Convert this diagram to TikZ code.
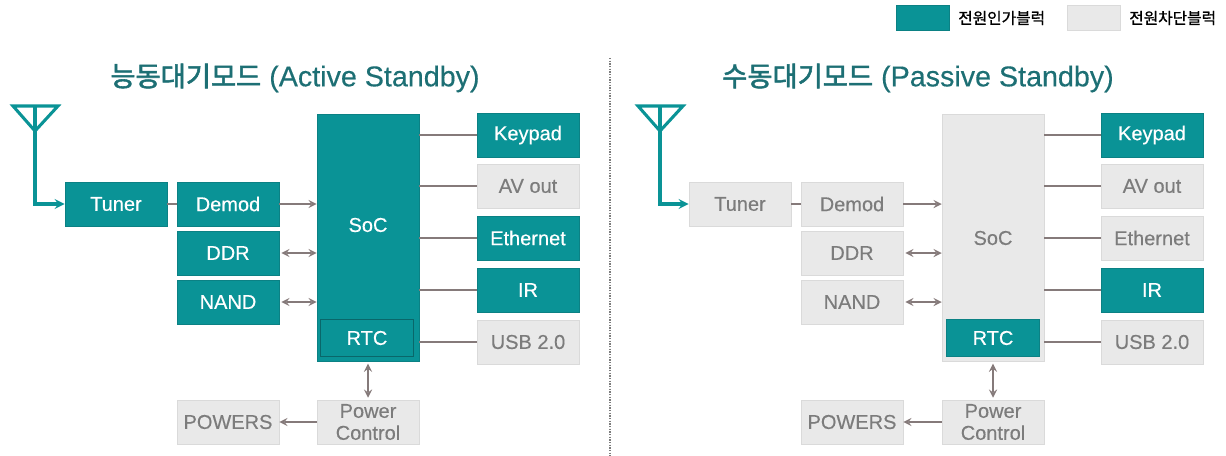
\documentclass[tikz,border=0pt]{standalone}
\usepackage{fontspec}
\setmainfont[FakeBold=0.35]{Liberation Sans}
\newfontfamily\cjk[FakeBold=2]{Noto Sans CJK KR}
\newfontfamily\cjkbold[FakeBold=0.9]{Noto Sans CJK KR}
\usetikzlibrary{calc}
\definecolor{tealblock}{HTML}{0A9396}
\definecolor{tealedge}{HTML}{0B8184}
\definecolor{tealtitle}{HTML}{1D6F74}
\definecolor{greyblock}{HTML}{E9E9E9}
\definecolor{greyedge}{HTML}{DADADA}
\definecolor{greytext}{HTML}{7C7C7C}
\definecolor{wirecolor}{HTML}{857A7A}

\begin{document}
\begin{tikzpicture}[x=0.75pt, y=-0.75pt, >=stealth,
    block/.style={rectangle, inner sep=0pt, minimum width=76.5pt, minimum height=33pt,
            font=\fontsize{15}{16.5}\selectfont, align=center},
    onblock/.style={block, fill=tealblock, draw=tealedge, text=white},
    offblock/.style={block, fill=greyblock, draw=greyedge, text=greytext},
    tallblock/.style={minimum height=185pt},
    rtcblock/.style={minimum width=70pt, minimum height=28pt},
    wire/.style={draw=wirecolor, line width=1.7pt},
    feed/.style={draw=tealblock, line width=2.3pt},
    title/.style={text=tealtitle, font=\fontsize{21.5}{24}\selectfont},
    legend/.style={inner sep=0pt, font=\cjkbold\fontsize{11.8}{13}\selectfont}]
        \useasboundingbox (0,0) rectangle (1226,456);

        % legend
        \node[onblock, minimum width=40pt, minimum height=19pt] (legendOn) at (923,18) {};
        \node[legend, anchor=west] (legendOnText) at (958,18) {전원인가블럭};
        \node[offblock, minimum width=40pt, minimum height=19pt] (legendOff) at (1094,18) {};
        \node[legend, anchor=west] (legendOffText) at (1129,18) {전원차단블럭};

        \node[title] (titleA) at (295,78) {{\cjk\fontsize{20.5}{24}\selectfont 능동대기모드} (Active Standby)};
        \node[title] (titleB) at (918,78) {{\cjk\fontsize{20.5}{24}\selectfont 수동대기모드} (Passive Standby)};
        \coordinate (splitTop) at (610,58);
        \coordinate (splitBot) at (610,456);
        \draw[greytext, densely dotted, line width=1pt] (splitTop) -- (splitBot);

        % active standby
        \node[onblock] (tunerA) at (116,204) {Tuner};
        \node[onblock] (demodA) at (228,204) {Demod};
        \node[onblock] (ddrA) at (228,253) {DDR};
        \node[onblock] (nandA) at (228,302) {NAND};
        \node[onblock, tallblock] (socA) at (368,238) {};
        \node[text=white, font=\fontsize{15}{16}\selectfont] (socTextA) at (368,225) {SoC};
        \node[onblock, rtcblock, draw=tealedge!80!black] (rtcA) at (367,338) {RTC};
        \node[onblock] (keypadA) at (528,135) {Keypad};
        \node[offblock] (avA) at (528,186) {AV out};
        \node[onblock] (ethA) at (528,238) {Ethernet};
        \node[onblock] (irA) at (528,290) {IR};
        \node[offblock] (usbA) at (528,342) {USB 2.0};
        \node[offblock] (pwrA) at (368,422) {Power\\Control};
        \node[offblock] (powersA) at (228,422) {POWERS};

        \coordinate (antTopA) at (35,106);
        \coordinate (antLeftA) at (13,106);
        \coordinate (antRightA) at (58,106);
        \coordinate (antTipA) at (35,131);
        \draw[feed] (antLeftA) -- (antRightA) -- (antTipA) -- cycle;
        \draw[feed, ->] (antTopA) |- (tunerA);
        \draw[wire] (tunerA) -- (demodA);
        \draw[wire, ->] (demodA) -- (demodA -| socA.west);
        \draw[wire, <->] ($(ddrA.east)+(2,0)$) -- (ddrA -| socA.west);
        \draw[wire, <->] ($(nandA.east)+(2,0)$) -- (nandA -| socA.west);
        \draw[wire] (keypadA.west) -- (keypadA -| socA.east);
        \draw[wire] (avA.west) -- (avA -| socA.east);
        \draw[wire] (ethA.west) -- (ethA -| socA.east);
        \draw[wire] (irA.west) -- (irA -| socA.east);
        \draw[wire] (usbA.west) -- (usbA -| socA.east);
        \draw[wire, <->] ($(socA.south)+(0,2)$) -- ($(pwrA.north)+(0,-2)$);
        \draw[wire, ->] (pwrA) -- (powersA);

        % passive standby
        \node[offblock] (tunerB) at (740,204) {Tuner};
        \node[offblock] (demodB) at (852,204) {Demod};
        \node[offblock] (ddrB) at (852,253) {DDR};
        \node[offblock] (nandB) at (852,302) {NAND};
        \node[offblock, tallblock] (socB) at (993,238) {SoC};
        \node[onblock, rtcblock] (rtcB) at (993,338) {RTC};
        \node[onblock] (keypadB) at (1152,135) {Keypad};
        \node[offblock] (avB) at (1152,186) {AV out};
        \node[offblock] (ethB) at (1152,238) {Ethernet};
        \node[onblock] (irB) at (1152,290) {IR};
        \node[offblock] (usbB) at (1152,342) {USB 2.0};
        \node[offblock] (pwrB) at (993,422) {Power\\Control};
        \node[offblock] (powersB) at (852,422) {POWERS};

        \coordinate (antTopB) at (660,106);
        \coordinate (antLeftB) at (638,106);
        \coordinate (antRightB) at (683,106);
        \coordinate (antTipB) at (660,131);
        \draw[feed] (antLeftB) -- (antRightB) -- (antTipB) -- cycle;
        \draw[feed, ->] (antTopB) |- (tunerB);
        \draw[wire] (tunerB) -- (demodB);
        \draw[wire, ->] (demodB) -- (demodB -| socB.west);
        \draw[wire, <->] ($(ddrB.east)+(2,0)$) -- (ddrB -| socB.west);
        \draw[wire, <->] ($(nandB.east)+(2,0)$) -- (nandB -| socB.west);
        \draw[wire] (keypadB.west) -- (keypadB -| socB.east);
        \draw[wire] (avB.west) -- (avB -| socB.east);
        \draw[wire] (ethB.west) -- (ethB -| socB.east);
        \draw[wire] (irB.west) -- (irB -| socB.east);
        \draw[wire] (usbB.west) -- (usbB -| socB.east);
        \draw[wire, <->] ($(socB.south)+(0,2)$) -- ($(pwrB.north)+(0,-2)$);
        \draw[wire, ->] (pwrB) -- (powersB);
\end{tikzpicture}
\end{document}
